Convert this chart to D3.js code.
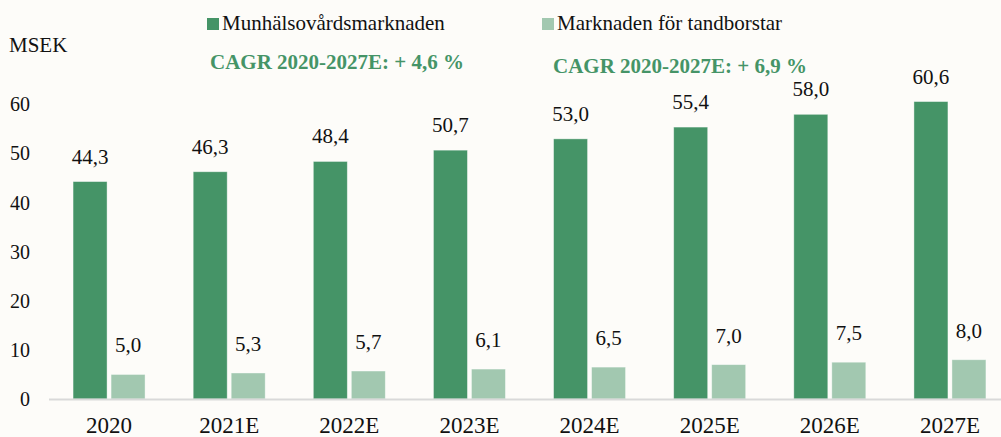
<!DOCTYPE html>
<html>
<head>
<meta charset="utf-8">
<script src="https://cdn.jsdelivr.net/npm/d3@7"></script>
<style>
  html, body { margin: 0; padding: 0; background: #fdfcf9; }
</style>
</head>
<body>
<svg id="chart" width="1001" height="437"></svg>
<script>
const categories = ["2020", "2021E", "2022E", "2023E", "2024E", "2025E", "2026E", "2027E"];
const seriesNames = ["Munhälsovårdsmarknaden", "Marknaden för tandborstar"];
const oralCare = [44.3, 46.3, 48.4, 50.7, 53.0, 55.4, 58.0, 60.6];
const toothbrushes = [5.0, 5.3, 5.7, 6.1, 6.5, 7.0, 7.5, 8.0];
const yTicks = [0, 10, 20, 30, 40, 50, 60];
const cagrTexts = ["CAGR 2020-2027E: + 4,6 %", "CAGR 2020-2027E: + 6,9 %"];
const colors = ["#459467", "#a2c8b0"];

const FONT = "'Liberation Serif', 'Times New Roman', serif";
const svg = d3.select("#chart");
const W = 1001, H = 437;
svg.append("rect").attr("width", W).attr("height", H).attr("fill", "#fdfcf9");

const y = d3.scaleLinear().domain([0, 60]).range([399, 104.5]);
const x0 = d3.scaleBand().domain(categories).range([49, 1010]).paddingInner(0).paddingOuter(0);
const x1 = d3.scaleBand().domain([0, 1]).range([-36, 36]).paddingInner(0.105);

const fmt = v => d3.format(".1f")(v).replace(".", ",");

// Y axis labels
const yAxis = d3.axisLeft(y).tickValues(yTicks).tickSize(0).tickPadding(0).tickFormat(d3.format("d"));
const yg = svg.append("g").attr("transform", "translate(30,0)").call(yAxis);
yg.attr("font-family", null);
yg.select(".domain").remove();
yg.selectAll("text").attr("font-size", 20).attr("fill", "#111").style("font-family", FONT);

// Bars
const data = categories.map((c, i) => ({ cat: c, vals: [oralCare[i], toothbrushes[i]] }));
const groups = svg.selectAll("g.cat").data(data).join("g")
  .attr("class", "cat")
  .attr("transform", d => `translate(${x0(d.cat) + x0.bandwidth() / 2},0)`);

groups.selectAll("rect").data(d => d.vals.map((v, s) => ({ v, s }))).join("rect")
  .attr("x", d => x1(d.s))
  .attr("width", x1.bandwidth())
  .attr("y", d => y(d.v))
  .attr("height", d => y(0) - y(d.v))
  .attr("fill", d => colors[d.s])
  .attr("stroke", "#ffffff").attr("stroke-opacity", 0.5).attr("stroke-width", 0.8);

groups.selectAll("text.val").data(d => d.vals.map((v, s) => ({ v, s }))).join("text")
  .attr("class", "val")
  .attr("x", d => x1(d.s) + x1.bandwidth() / 2)
  .attr("y", d => y(d.v) - (d.s === 0 ? 18 : 22))
  .attr("text-anchor", "middle")
  .attr("font-size", 21)
  .attr("fill", "#111")
  .style("font-family", FONT)
  .text(d => fmt(d.v));

// X axis
const xAxis = d3.axisBottom(x0).tickSize(0).tickPadding(0);
const xg = svg.append("g").attr("transform", "translate(0,399)").call(xAxis);
xg.attr("font-family", null);
xg.select(".domain").remove();
xg.selectAll("text").attr("font-size", 23).attr("fill", "#111").attr("dy", null).attr("y", 34)
  .style("font-family", FONT);
svg.append("line").attr("x1", 49).attr("x2", 1001).attr("y1", 399.5).attr("y2", 399.5)
  .attr("stroke", "#d9d9d9").attr("stroke-width", 2);

// Unit label
svg.append("text").attr("x", 9).attr("y", 52).attr("font-size", 21).attr("fill", "#111")
  .style("font-family", FONT).text("MSEK");

// Legend
const legendX = [207, 542];
seriesNames.forEach((name, i) => {
  svg.append("rect").attr("x", legendX[i]).attr("y", 18).attr("width", 12).attr("height", 12).attr("fill", colors[i]);
  svg.append("text").attr("x", legendX[i] + 15).attr("y", 30).attr("font-size", 21).attr("fill", "#111")
    .style("font-family", FONT).text(name);
});

// CAGR annotations
const cagrPos = [[210, 69], [553, 73]];
cagrTexts.forEach((t, i) => {
  svg.append("text").attr("x", cagrPos[i][0]).attr("y", cagrPos[i][1])
    .attr("font-size", 21).attr("font-weight", "bold").attr("fill", "#459467")
    .style("font-family", FONT).text(t);
});
</script>
</body>
</html>
